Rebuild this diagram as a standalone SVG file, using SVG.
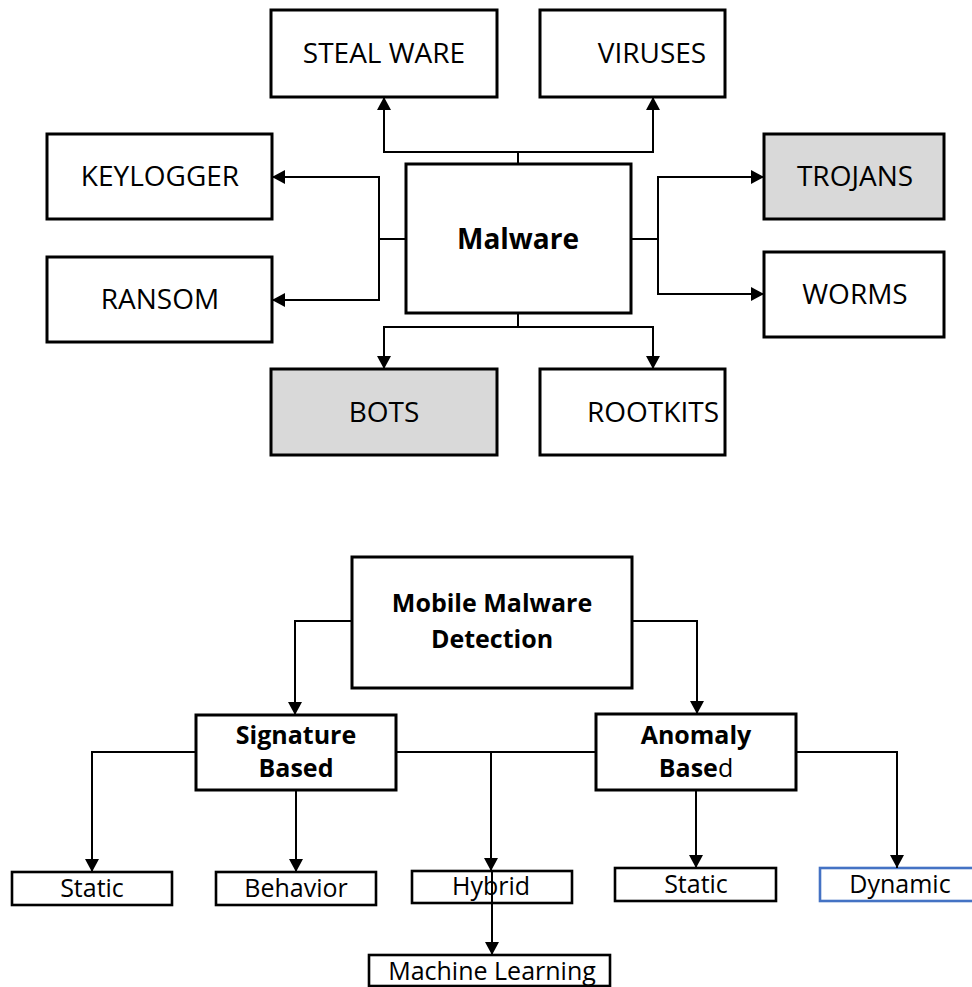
<svg xmlns="http://www.w3.org/2000/svg" width="972" height="987" viewBox="0 0 972 987">
<style>
.box{fill:#fff;stroke:#000;stroke-width:3}
.gray{fill:#d9d9d9}
.sm{fill:#fff;stroke:#000;stroke-width:2.6}
.blue{stroke:#4472c4}
.t{font-family:"Open Sans","Liberation Sans",sans-serif;font-size:28px;fill:#000;text-anchor:middle}
.b{font-family:"Open Sans","Liberation Sans",sans-serif;font-size:25px;font-weight:bold;fill:#000;text-anchor:middle}
.s{font-family:"Open Sans","Liberation Sans",sans-serif;font-size:25px;fill:#000;text-anchor:middle}
.c{fill:none;stroke:#000;stroke-width:2}
</style>
<defs>
<marker id="ar" markerUnits="userSpaceOnUse" markerWidth="13" markerHeight="14" refX="13" refY="7" orient="auto">
<path d="M0,0 L13,7 L0,14 z" fill="#000"/>
</marker>
</defs>
<rect width="972" height="987" fill="#fff"/>

<g id="steal"><rect class="box" x="271" y="10" width="226" height="87"/><text class="t" x="384" y="63">STEAL WARE</text></g>
<g id="viruses"><rect class="box" x="540" y="10" width="185" height="87"/><text class="t" x="652" y="63">VIRUSES</text></g>
<g id="keylogger"><rect class="box" x="47" y="134" width="225" height="85"/><text class="t" x="160" y="186">KEYLOGGER</text></g>
<g id="ransom"><rect class="box" x="47" y="257" width="225" height="85"/><text class="t" x="160" y="309">RANSOM</text></g>
<g id="malware"><rect class="box" x="406" y="164" width="225" height="149"/><text class="t" x="518" y="249" font-weight="bold">Malware</text></g>
<g id="trojans"><rect class="box gray" x="764" y="134" width="180" height="85"/><text class="t" x="855" y="186">TROJANS</text></g>
<g id="worms"><rect class="box" x="764" y="252" width="180" height="85"/><text class="t" x="855" y="304">WORMS</text></g>
<g id="bots"><rect class="box gray" x="271" y="369" width="226" height="86"/><text class="t" x="384" y="422">BOTS</text></g>
<g id="rootkits"><rect class="box" x="540" y="369" width="185" height="86"/><text class="t" x="653" y="422">ROOTKITS</text></g>

<g id="mmd"><rect class="box" x="352" y="557" width="280" height="131"/><text class="b" x="492" y="612">Mobile Malware</text><text class="b" x="492" y="648">Detection</text></g>
<g id="signature"><rect class="box" x="196" y="715" width="200" height="75"/><text class="b" x="296" y="744">Signature</text><text class="b" x="296" y="777">Based</text></g>
<g id="anomaly"><rect class="box" x="596" y="714" width="200" height="76"/><text class="b" x="696" y="744">Anomaly</text><text class="b" x="696" y="777">Base<tspan font-weight="normal">d</tspan></text></g>

<g id="static1"><rect class="sm" x="12" y="872" width="160" height="33"/><text class="s" x="92" y="897">Static</text></g>
<g id="behavior"><rect class="sm" x="216" y="872" width="160" height="33"/><text class="s" x="296" y="897">Behavior</text></g>
<g id="hybrid"><rect class="sm" x="412" y="871" width="160" height="32"/><text class="s" x="491" y="895">Hybrid</text></g>
<g id="static2"><rect class="sm" x="615" y="868" width="161" height="33"/><text class="s" x="696" y="893">Static</text></g>
<g id="dynamic"><rect class="sm blue" x="820" y="868" width="170" height="33"/><text class="s" x="900" y="893">Dynamic</text></g>
<g id="ml"><rect class="sm" x="369" y="955" width="241" height="31"/><text class="s" x="492" y="980">Machine Learning</text></g>

<g id="connectors" class="c">
<path d="M518,164 V152 H384 V97" marker-end="url(#ar)"/>
<path d="M518,152 H653 V97" marker-end="url(#ar)"/>
<path d="M406,239 H379 V177 H272" marker-end="url(#ar)"/>
<path d="M379,239 V300 H272" marker-end="url(#ar)"/>
<path d="M631,239 H658 V177 H764" marker-end="url(#ar)"/>
<path d="M658,239 V294 H764" marker-end="url(#ar)"/>
<path d="M518,313 V327 H384 V369" marker-end="url(#ar)"/>
<path d="M518,327 H653 V369" marker-end="url(#ar)"/>

<path d="M352,621 H295 V715" marker-end="url(#ar)"/>
<path d="M632,621 H697 V714" marker-end="url(#ar)"/>
<path d="M196,752 H92 V872" marker-end="url(#ar)"/>
<path d="M396,752 H596"/>
<path d="M491,752 V871" marker-end="url(#ar)"/>
<path d="M796,752 H897 V868" marker-end="url(#ar)"/>
<path d="M296,790 V872" marker-end="url(#ar)"/>
<path d="M696,790 V868" marker-end="url(#ar)"/>
<path d="M492,871 V955" marker-end="url(#ar)"/>
</g>
</svg>
